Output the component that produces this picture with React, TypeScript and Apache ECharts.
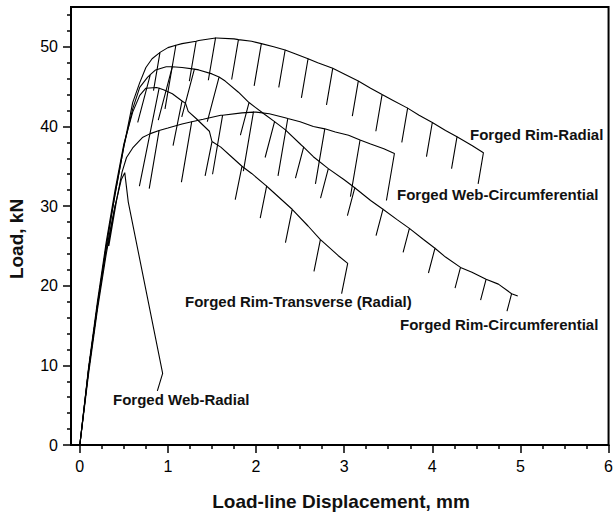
import React, { useEffect, useRef } from "react";
import * as echarts from "echarts";

// ---- Axis ticks ----
const X_TICKS = [0, 1, 2, 3, 4, 5, 6];
const X_MINOR = [0.25, 0.5, 0.75, 1.25, 1.5, 1.75, 2.25, 2.5, 2.75, 3.25, 3.5, 3.75, 4.25, 4.5, 4.75, 5.25, 5.5, 5.75];
const Y_TICKS = [0, 10, 20, 30, 40, 50];
const Y_MINOR = [2, 4, 6, 8, 12, 14, 16, 18, 22, 24, 26, 28, 32, 34, 36, 38, 42, 44, 46, 48, 52, 54];

// ---- Curves: envelope [mm, kN] and unloading spikes [mm, top kN, bottom kN] ----
const RIM_RADIAL_ENV = [
  [0, 0], [0.1, 9.5], [0.2, 17.5], [0.3, 25], [0.4, 31.5], [0.5, 37.5], [0.6, 43], [0.68, 45.5],
  [0.75, 47.4], [0.82, 48.5], [0.9, 49.2], [1.0, 49.9], [1.16, 50.4], [1.35, 50.8], [1.55, 51.1],
  [1.75, 51.0], [1.95, 50.7], [2.2, 50.0], [2.45, 49.1], [2.7, 48.0], [3.0, 46.6], [3.3, 44.8],
  [3.55, 43.3], [3.85, 41.4], [4.15, 39.5], [4.45, 37.6], [4.58, 36.7],
];
const RIM_RADIAL_UNLOADS = [
  [0.91, 49.3, 44.5], [1.09, 50.2, 42.2], [1.32, 50.7, 45.7], [1.54, 51.1, 45.8], [1.8, 50.9, 45.9],
  [2.06, 50.4, 45.1], [2.33, 49.6, 44.9], [2.59, 48.5, 43.6], [2.87, 47.3, 42.7], [3.16, 45.7, 41.3],
  [3.43, 44.0, 39.4], [3.72, 42.3, 38.0], [4.0, 40.5, 36.2], [4.28, 38.7, 34.7], [4.58, 36.7, 32.8],
];

const WEB_CIRC_ENV = [
  [0, 0], [0.1, 9], [0.2, 17], [0.3, 24], [0.4, 30], [0.48, 34.3], [0.53, 36.1], [0.6, 37.3],
  [0.71, 38.6], [0.8, 39.1], [1.0, 39.8], [1.16, 40.3], [1.4, 40.9], [1.6, 41.4], [1.84, 41.7],
  [2.0, 41.8], [2.15, 41.6], [2.33, 41.1], [2.5, 40.6], [2.65, 40.0], [2.9, 39.3], [3.05, 38.9],
  [3.3, 37.8], [3.45, 37.2], [3.57, 36.6],
];
const WEB_CIRC_UNLOADS = [
  [0.42, 30.9, 25.0], [0.9, 39.5, 32.2], [1.27, 40.6, 33.0], [1.62, 41.4, 34.0], [1.97, 41.8, 34.4],
  [2.36, 41.0, 33.8], [2.78, 39.7, 32.8], [3.18, 38.3, 31.2], [3.57, 36.6, 30.7],
];

const RIM_CIRC_ENV = [
  [0, 0], [0.1, 9.5], [0.2, 17.5], [0.3, 25], [0.4, 31.5], [0.5, 37.5], [0.6, 42.2], [0.68, 44.9],
  [0.77, 46.2], [0.86, 47.1], [0.98, 47.5], [1.16, 47.4], [1.35, 47.1], [1.5, 46.6], [1.65, 45.7],
  [1.8, 44.3], [1.92, 43.0], [2.1, 41.5], [2.33, 39.6], [2.51, 37.7], [2.65, 36.2], [2.82, 34.7],
  [3.0, 33.3], [3.3, 30.7], [3.6, 28.3], [3.9, 25.8], [4.15, 23.6], [4.45, 21.7], [4.75, 20.2],
  [4.97, 18.7],
];
const RIM_CIRC_UNLOADS = [
  [0.8, 46.5, 40.5], [1.05, 47.5, 40.8], [1.3, 47.2, 41.2], [1.58, 46.2, 40.6], [1.92, 43.0, 38.9],
  [2.21, 40.6, 36.1], [2.54, 37.4, 33.5], [2.82, 34.7, 31.0], [3.12, 32.3, 28.8], [3.44, 29.6, 26.3],
  [3.74, 27.2, 24.2], [4.03, 24.7, 21.6], [4.32, 22.3, 19.7], [4.61, 20.8, 18.2], [4.9, 19.0, 16.8],
];

const RIM_TRANS_ENV = [
  [0, 0], [0.1, 9.8], [0.2, 18], [0.3, 25.5], [0.4, 32], [0.5, 37.8], [0.6, 41.8], [0.68, 43.9],
  [0.75, 44.8], [0.87, 44.9], [0.95, 44.6], [1.05, 44.1], [1.16, 43.2], [1.2, 42.9], [1.23, 41.9],
  [1.32, 41.0], [1.47, 39.4], [1.5, 38.1], [1.6, 37.4], [1.73, 36.1], [1.95, 34.1], [2.14, 32.3],
  [2.4, 29.7], [2.59, 27.5], [2.75, 25.6], [2.93, 23.8], [3.04, 22.8],
];
const RIM_TRANS_UNLOADS = [
  [0.9, 44.8, 32.5], [1.16, 43.2, 37.6], [1.5, 38.1, 33.8], [1.84, 35.0, 30.8], [2.12, 32.5, 28.5],
  [2.41, 29.6, 25.4], [2.73, 25.8, 21.8], [3.04, 22.8, 19.0],
];

const WEB_RADIAL_ENV = [
  [0, 0], [0.1, 9.5], [0.2, 17.5], [0.3, 24.5], [0.4, 30], [0.47, 33.3], [0.51, 34.2], [0.55, 30.5],
  [0.94, 9.0], [0.88, 6.8],
];
const WEB_RADIAL_UNLOADS: number[][] = [];

// unloading stiffness (kN/mm) used to slant each unloading line
const STIFFNESS = { rimRadial: 65, webCirc: 65, rimCirc: 42, rimTrans: 55, webRadial: 60 };

const LABELS = [
  "Forged Rim-Radial",
  "Forged Web-Circumferential",
  "Forged Rim-Transverse (Radial)",
  "Forged Rim-Circumferential",
  "Forged Web-Radial",
];

function buildCurve(env: number[][], unloads: number[][], k: number): number[][] {
  const out: number[][] = [];
  const spikeX = new Set(unloads.map((u) => u[0]));
  const pending = unloads.slice().sort((a, b) => a[0] - b[0]);
  let i = 0;
  const pushSpike = (u: number[]) => {
    const [x, top, bot] = u;
    out.push([x, top]);
    out.push([x - (top - bot) / k, bot]);
    out.push([x, top]);
  };
  for (const p of env) {
    while (i < pending.length && pending[i][0] <= p[0]) {
      pushSpike(pending[i]);
      i++;
    }
    if (!spikeX.has(p[0])) out.push(p);
  }
  while (i < pending.length) {
    pushSpike(pending[i]);
    i++;
  }
  return out;
}

const FONT = "'Liberation Sans', Arial, Helvetica, sans-serif";

export default function App() {
  const ref = useRef<HTMLDivElement>(null);
  useEffect(() => {
    if (!ref.current) return;
    const chart = echarts.init(ref.current, undefined, { renderer: "svg" });
    const curves = [
      buildCurve(RIM_RADIAL_ENV, RIM_RADIAL_UNLOADS, STIFFNESS.rimRadial),
      buildCurve(WEB_CIRC_ENV, WEB_CIRC_UNLOADS, STIFFNESS.webCirc),
      buildCurve(RIM_TRANS_ENV, RIM_TRANS_UNLOADS, STIFFNESS.rimTrans),
      buildCurve(RIM_CIRC_ENV, RIM_CIRC_UNLOADS, STIFFNESS.rimCirc),
      buildCurve(WEB_RADIAL_ENV, WEB_RADIAL_UNLOADS, STIFFNESS.webRadial),
    ];
    const labelPos = [
      [470, 134],
      [397, 194],
      [185, 301],
      [400, 324],
      [113, 399],
    ];
    const tickStyle = { color: "#000", width: 1.5 };
    chart.setOption({
      animation: false,
      backgroundColor: "#fff",
      grid: {
        left: 71, right: 4, top: 7, bottom: 68,
        show: true, borderColor: "#000", borderWidth: 2, backgroundColor: "transparent",
      },
      xAxis: [
        {
          type: "value", min: -0.1, max: 6, position: "bottom",
          axisLine: { show: true, onZero: false, lineStyle: { color: "#000", width: 2 } },
          axisTick: { show: true, customValues: X_TICKS, length: 8, lineStyle: tickStyle },
          axisLabel: { customValues: X_TICKS, margin: 13, fontSize: 16, color: "#000", fontFamily: FONT },
          splitLine: { show: false },
        },
        {
          type: "value", min: -0.1, max: 6, position: "bottom",
          axisLine: { show: false, onZero: false },
          axisTick: { show: true, customValues: X_MINOR, length: 4, lineStyle: tickStyle },
          axisLabel: { show: false },
          splitLine: { show: false },
        },
      ],
      yAxis: [
        {
          type: "value", min: 0, max: 55, position: "left",
          axisLine: { show: true, onZero: false, lineStyle: { color: "#000", width: 2 } },
          axisTick: { show: true, customValues: Y_TICKS, length: 8, lineStyle: tickStyle },
          axisLabel: { customValues: Y_TICKS, margin: 13, fontSize: 16, color: "#000", fontFamily: FONT },
          splitLine: { show: false },
        },
        {
          type: "value", min: 0, max: 55, position: "left",
          axisLine: { show: false, onZero: false },
          axisTick: { show: true, customValues: Y_MINOR, length: 4, lineStyle: tickStyle },
          axisLabel: { show: false },
          splitLine: { show: false },
        },
      ],
      series: curves.map((data, idx) => ({
        type: "line",
        name: LABELS[idx],
        xAxisIndex: 0,
        yAxisIndex: 0,
        data,
        showSymbol: false,
        symbol: "none",
        lineStyle: { color: "#000", width: 1.1 },
        z: 3,
      })),
      graphic: [
        ...LABELS.map((t, idx) => ({
          type: "text",
          x: labelPos[idx][0],
          y: labelPos[idx][1],
          style: {
            text: t, fill: "#111", font: `bold 15px ${FONT}`,
            textAlign: "left", textVerticalAlign: "middle",
          },
        })),
        {
          type: "text", x: 341, y: 501,
          style: {
            text: "Load-line Displacement, mm", fill: "#111", font: `bold 19px ${FONT}`,
            textAlign: "center", textVerticalAlign: "middle",
          },
        },
        {
          type: "text", x: 16, y: 239, rotation: Math.PI / 2,
          style: {
            text: "Load, kN", fill: "#111", font: `bold 19px ${FONT}`,
            textAlign: "center", textVerticalAlign: "middle",
          },
        },
      ],
    });
    return () => chart.dispose();
  }, []);
  return (
    <div
      ref={ref}
      style={{ position: "fixed", left: 0, top: 0, width: 616, height: 513, background: "#fff" }}
    />
  );
}
